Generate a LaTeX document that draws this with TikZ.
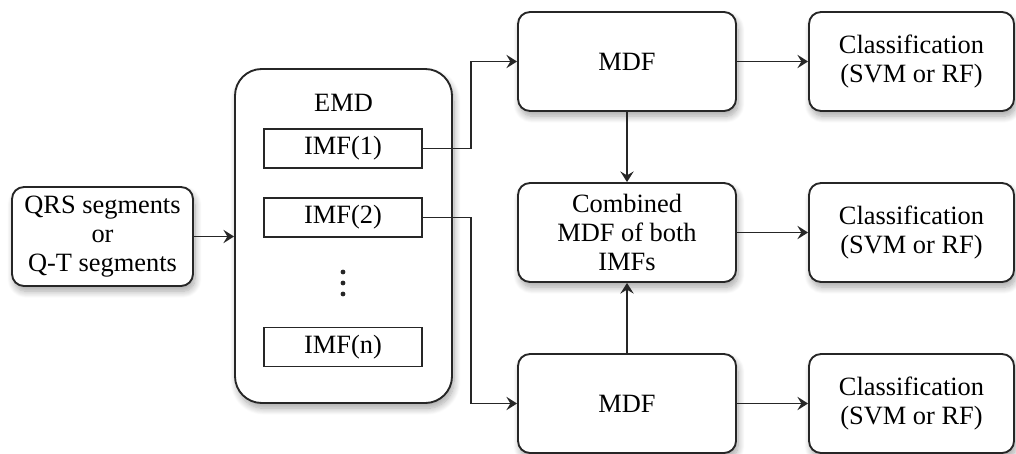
\documentclass[tikz,border=0pt]{standalone}
\usepackage{fontspec}
\setmainfont{Liberation Serif}
\usetikzlibrary{arrows.meta,shadows.blur}
\tikzset{
  box/.style={draw=black!85, line width=1.4pt, rounded corners=9pt, fill=white, align=center,
    minimum width=163.5pt, minimum height=74.25pt, inner sep=2pt,
    blur shadow={shadow blur steps=10, shadow xshift=1.5pt, shadow yshift=-4pt, shadow opacity=35, shadow blur radius=5pt}},
  imfbox/.style={draw=black!85, line width=1.4pt, fill=white, minimum width=118.5pt, minimum height=29.25pt, inner sep=0pt},
  arr/.style={draw=black!85, line width=1.3pt, -{Stealth[length=8pt,width=10pt,inset=3pt]}},
  txt/.style={font=\fontsize{19.8}{22}\selectfont}
}
\begin{document}
\begin{tikzpicture}[x=0.75pt,y=-0.75pt]
\useasboundingbox (0,0) rectangle (1016,453);
\begin{scope}[txt]
\node[box, minimum width=135.75pt] (qrs) at (102.5,236.5) {QRS segments\\or\\Q-T segments};
\node[box, minimum width=162.75pt, minimum height=250.5pt, rounded corners=20pt] (emd) at (343.5,236) {};
\node (emdlabel) at (343.5,103) {EMD};
\node[imfbox] (imf1) at (343,148.5) {IMF(1)};
\node[imfbox] (imf2) at (343,217.5) {IMF(2)};
\node[imfbox] (imfn) at (343,347) {IMF(n)};
\node[box] (mdf1) at (627,61.5) {MDF};
\node[box] (comb) at (627,232.5) {Combined\\MDF of both\\IMFs};
\node[box] (mdf2) at (627,403.5) {MDF};
\node[box, minimum width=153.75pt] (cls1) at (911.5,61.5) {Classification\\(SVM or RF)};
\node[box, minimum width=153.75pt] (cls2) at (911.5,232.5) {Classification\\(SVM or RF)};
\node[box, minimum width=153.75pt] (cls3) at (911.5,403.5) {Classification\\(SVM or RF)};
\end{scope}
\foreach \yy in {272,283,294} \fill[black!85] (343,\yy) circle (2.4);
\draw[arr] (qrs.east) -- (qrs.east -| emd.west);
\draw[arr] (imf1.east) -- ++(48,0) |- (mdf1.west);
\draw[arr] (imf2.east) -- ++(48,0) |- (mdf2.west);
\draw[arr] (mdf1.south) -- (comb.north);
\draw[arr] (mdf2.north) -- (comb.south);
\draw[arr] (mdf1.east) -- (cls1.west);
\draw[arr] (comb.east) -- (cls2.west);
\draw[arr] (mdf2.east) -- (cls3.west);
\end{tikzpicture}
\end{document}
